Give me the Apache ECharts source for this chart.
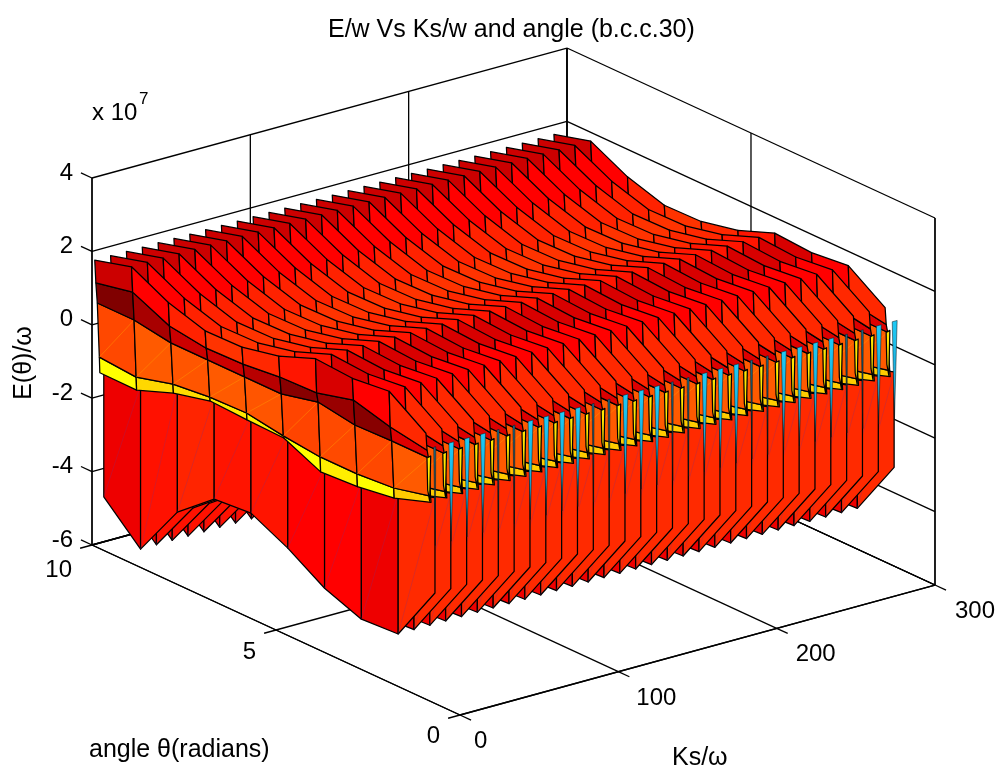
<!DOCTYPE html>
<html><head><meta charset="utf-8">
<style>html,body{margin:0;padding:0;background:#fff}#c{width:997px;height:769px}</style>
<script src="https://cdn.jsdelivr.net/npm/echarts@6/dist/echarts.min.js"></script>
</head><body><div id="c"></div>
<script>
// ---- data (energy in units of 1e7) ----
const ksValues=[0,10,20,30,40,50,60,70,80,90,100,110,120,130,140,150,160,170,180,190,200,210,220,230,240,250,260,270,280,290];
const thetaValues=[9.68,8.68,7.68,6.68,5.68,4.68,3.68,2.68,1.68,0.68];
const zLip=[1.98,2.26,1.75,1.44,1.46,1.68,2.07,2.00,2.11,1.43];
const zRoof=[1.35,1.56,1.10,0.96,0.99,1.10,1.13,1.40,1.13,0.96];
const zDark=[0.79,0.79,0.63,0.63,0.63,0.63,0.87,0.71,0.74,0.74];
const zOrange=[-0.70,-0.78,-0.51,-0.40,-0.37,-0.53,-0.64,-0.64,-0.56,-0.32];
const zYellow=[-1.13,-1.14,-0.76,-0.51,-0.56,-0.59,-1.05,-0.99,-0.84,-0.49];
const zRedTop=[-1.03,-1.04,-0.66,-0.41,-0.46,-0.49,-0.95,-0.89,-0.74,-0.39];
const zBottom=[-4.54,-5.50,-4.03,-3.21,-3.13,-3.62,-4.25,-4.63,-4.57,-2.99];
// Ks lean of each level inside one sheet
const leanLip=-5.7, leanRoof=-5.0, leanDark=-4.1, leanOrange=-2.8, leanYellow=-2.5;
// face colours per angle segment
const colRoof=['#cc0000','#ff0000','#ff2200','#ff3300','#ff2800','#ff1500','#d80000','#ff0000','#ff2800'];
const colDark=['#800000','#a80000','#cc0000','#cc0000','#b80000','#880000','#990000','#880000','#dd0000'];
const colOrange=['#ff4800','#ff5a00','#ff5500','#ff5a00','#ff5500','#ff4400','#ff4a00','#ff4800','#ff5a00'];
const colYellow=['#ffff00','#ffd800','#ffdc00','#ffe800','#ffee00','#ffff00','#ffee00','#ffff00','#ffcc00'];
const colRed=['#ee0000','#ff1100','#ff2400','#ff1400','#ff1400','#ff0000','#ff0000','#ee0000','#ff2a00'];
// end pieces at the low-angle edge of each sheet
const sliverKs=[-5.05,-2.7,-3.35,-4.6], sliverZ=[0.746,0.774,-0.446,-0.13];
const gapZ=[0.99,-1.7];
const gapBright=[0,1,1,1,0,0,1,1,1,1,0,0,1,1,1,0,0,1,1,1,0,0,1,1,1,1,0,0,1,1];
// axes
const zTicks=[-6,-4,-2,0,2,4];
const thetaTicks=[0,5,10];
const ksTicks=[0,100,200,300];
const ksLabelDx=[14,18,19,20];
const thetaLabelDy=[21.5,22.5,25.5];

// ---- view of the 3-D box ----
function project(k,a,z){return [460+1.5833*k-36.8*a, 715-0.4333*k-17*a-36.7*(z+6)];}

const faces=[];
function quad(k1,a1,z1,k2,a2,z2,k3,a3,z3,k4,a4,z4,fill,diag){
  faces.push({p:[[k1,a1,z1],[k2,a2,z2],[k3,a3,z3],[k4,a4,z4]],fill,diag});
}
function band(k,lean0,upper,lean1,lower,cols,diag){
  for(let i=0;i<9;i++){
    quad(k+lean0,thetaValues[i],upper[i],k+lean0,thetaValues[i+1],upper[i+1],
         k+lean1,thetaValues[i+1],lower[i+1],k+lean1,thetaValues[i],lower[i],cols[i],diag);
  }
}
const aEnd=thetaValues[9];
for(let j=ksValues.length-1;j>=0;j--){
  const k=ksValues[j];
  const b=gapBright[j];
  band(k,0,zRedTop,0,zBottom,colRed,'rgba(120,50,130,0.45)');
  band(k,leanOrange,zOrange,leanYellow,zYellow,colYellow);
  band(k,leanDark,zDark,leanOrange,zOrange,colOrange,'rgba(255,150,0,0.8)');
  band(k,leanRoof,zRoof,leanDark,zDark,colDark);
  band(k,leanLip,zLip,leanRoof,zRoof,colRoof);
  faces.push({p:sliverKs.map((d,n)=>[k+d,aEnd,sliverZ[n]]),fill:'#ffe600'});
  faces.push({p:[[k+(b?-1.2:-0.8),aEnd,gapZ[0]],[k+(b?1.9:0.5),aEnd,gapZ[0]],[k+0.2,aEnd,gapZ[1]]],
              gap:b?'b':'d'});
}
const fillGapB=new echarts.graphic.LinearGradient(0,0,0,1,[{offset:0,color:'#1ecaf5'},{offset:0.7,color:'#1aa8d8'},{offset:1,color:'#1c3a48'}]);
const fillGapD=new echarts.graphic.LinearGradient(0,0,0,1,[{offset:0,color:'#1a6f90'},{offset:1,color:'#101c20'}]);

// axis lines: walls, floor grid, ticks
const lines=[];
function L(a,b){lines.push([a,b]);}
const kMax=300,aMax=10,zMin=-6,zMax=4;
L([0,aMax,zMin],[0,aMax,zMax]);L([kMax,0,zMin],[kMax,0,zMax]);L([kMax,aMax,zMin],[kMax,aMax,zMax]);
L([0,aMax,zMin],[0,0,zMin]);L([0,0,zMin],[kMax,0,zMin]);L([0,aMax,zMin],[kMax,aMax,zMin]);L([kMax,aMax,zMin],[kMax,0,zMin]);
zTicks.forEach(z=>{L([0,aMax,z],[kMax,aMax,z]);L([kMax,aMax,z],[kMax,0,z]);L([0,aMax,z],[0,aMax+0.3,z]);});
ksTicks.forEach(k=>{L([k,aMax,zMin],[k,0,zMin]);L([k,aMax,zMin],[k,aMax,zMax]);L([k,0,zMin],[k,-0.3,zMin]);});
thetaTicks.forEach(a=>{L([0,a,zMin],[kMax,a,zMin]);L([kMax,a,zMin],[kMax,a,zMax]);L([0,a,zMin],[-7.5,a,zMin]);});

const FONT='Liberation Sans, Arial, sans-serif';
const texts=[];
zTicks.forEach(z=>{const p=project(0,aMax,z);texts.push({t:String(z),x:p[0]-19,y:p[1]-5,al:'right',s:24});});
thetaTicks.forEach((a,n)=>{const p=project(0,a,zMin);texts.push({t:String(a),x:p[0]-20,y:p[1]+thetaLabelDy[n],al:'right',s:24});});
ksTicks.forEach((k,n)=>{const p=project(k,0,zMin);texts.push({t:String(k),x:p[0]+ksLabelDx[n],y:p[1]+26.5,al:'left',s:24});});
texts.push({t:'x 10',x:92,y:113,al:'left',s:24});
texts.push({t:'7',x:139,y:99,al:'left',s:17});
texts.push({t:'E(\u03b8)/\u03c9',x:24,y:363,al:'center',s:25,rot:Math.PI/2});
texts.push({t:'angle \u03b8(radians)',x:89,y:750,al:'left',s:25});
texts.push({t:'Ks/\u03c9',x:672,y:758,al:'left',s:25});

const chart=echarts.init(document.getElementById('c'),null,{renderer:'canvas'});
chart.setOption({
  animation:false,
  backgroundColor:'#fff',
  title:{text:'E/w Vs Ks/w and angle (b.c.c.30)',top:13,left:323,
    textStyle:{fontFamily:FONT,fontSize:25,fontWeight:'normal',color:'#000'}},
  grid:{left:0,right:0,top:0,bottom:0},
  xAxis:{type:'value',min:0,max:997,show:false},
  yAxis:{type:'value',min:0,max:769,inverse:true,show:false},
  series:[
    {type:'custom',coordinateSystem:'cartesian2d',clip:false,silent:true,progressive:0,z:1,
     data:lines.map((_,i)=>[i]),
     renderItem(params,api){
       const l=lines[api.value(0)];
       const a=api.coord(project(...l[0])),b=api.coord(project(...l[1]));
       return {type:'line',shape:{x1:a[0],y1:a[1],x2:b[0],y2:b[1]},style:{stroke:'#000',lineWidth:1.3}};
     }},
    {type:'custom',coordinateSystem:'cartesian2d',clip:false,silent:true,progressive:0,z:2,
     data:faces.map((_,i)=>[i]),
     renderItem(params,api){
       const f=faces[api.value(0)];
       const pts=f.p.map(q=>api.coord(project(q[0],q[1],q[2])));
       if(f.gap){
         return {type:'polygon',shape:{points:pts},style:{fill:f.gap==='b'?fillGapB:fillGapD,stroke:'#0a1418',lineWidth:0.5}};
       }
       const poly={type:'polygon',shape:{points:pts},style:{fill:f.fill,stroke:'#000',lineWidth:1.25,lineJoin:'round'}};
       if(f.diag){
         return {type:'group',children:[poly,
           {type:'line',shape:{x1:pts[3][0],y1:pts[3][1],x2:pts[1][0],y2:pts[1][1]},style:{stroke:f.diag,lineWidth:0.6}}]};
       }
       return poly;
     }},
    {type:'custom',coordinateSystem:'cartesian2d',clip:false,silent:true,progressive:0,z:3,
     data:texts.map((_,i)=>[i]),
     renderItem(params,api){
       const t=texts[api.value(0)];
       const c=api.coord([t.x,t.y]);
       return {type:'text',x:c[0],y:c[1],rotation:t.rot||0,
         style:{text:t.t,fontFamily:FONT,fontSize:t.s,fill:'#000',align:t.al,verticalAlign:'middle'}};
     }}
  ]
});
</script></body></html>
